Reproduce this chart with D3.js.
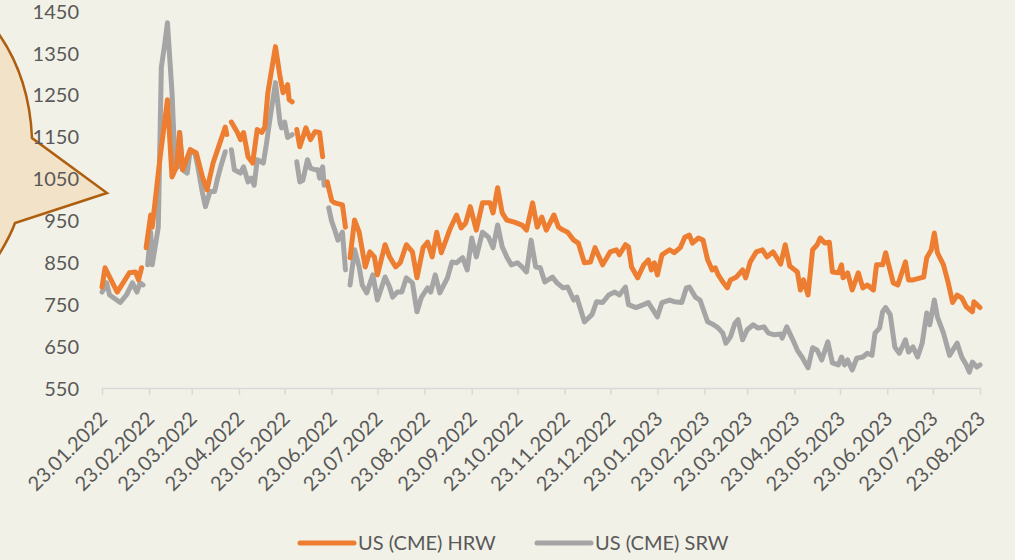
<!DOCTYPE html>
<html><head><meta charset="utf-8">
<script src="https://cdn.jsdelivr.net/npm/d3@7"></script>
<style>
html,body{margin:0;padding:0;background:#F2F1E7;}
svg{display:block;font-family:Lato,"Open Sans",sans-serif;}
</style>
</head><body>
<svg id="c" width="1015" height="560"></svg>
<script>
// ---------- data ----------
const tickLabels = ["23.01.2022","23.02.2022","23.03.2022","23.04.2022","23.05.2022","23.06.2022",
  "23.07.2022","23.08.2022","23.09.2022","23.10.2022","23.11.2022","23.12.2022","23.01.2023",
  "23.02.2023","23.03.2023","23.04.2023","23.05.2023","23.06.2023","23.07.2023","23.08.2023"];
const yTicks = [550,650,750,850,950,1050,1150,1250,1350,1450];
const seriesNames = ["US (CME) HRW","US (CME) SRW"];
const seriesColors = ["#ED7D31","#A5A5A5"];

const hrw = [
["2022-01-23",791],["2022-01-25",837],["2022-02-02",779],["2022-02-10",825],["2022-02-14",827],["2022-02-16",808],["2022-02-18",837],["2022-02-20",null],
["2022-02-21",885],["2022-02-24",963],["2022-02-25",934],["2022-03-02",1095],["2022-03-07",1238],["2022-03-10",1054],["2022-03-13",1078],["2022-03-15",1160],["2022-03-17",1071],["2022-03-22",1119],["2022-03-26",1111],["2022-03-30",1054],
["2022-04-02",1023],["2022-04-06",1087],["2022-04-09",1119],["2022-04-14",1173],["2022-04-15",1155],["2022-04-17",null],
["2022-04-18",1185],["2022-04-22",1160],["2022-04-24",1143],["2022-04-26",1160],["2022-04-29",1102],["2022-05-02",1087],["2022-05-05",1167],["2022-05-08",1160],["2022-05-10",1173],["2022-05-12",1255],["2022-05-17",1365],["2022-05-20",1293],["2022-05-22",1255],["2022-05-25",1274],["2022-05-26",1238],["2022-05-28",1233],["2022-05-30",null],
["2022-05-31",1167],["2022-06-02",1126],["2022-06-06",1171],["2022-06-09",1143],["2022-06-12",1162],["2022-06-15",1160],["2022-06-17",1102],["2022-06-19",null],
["2022-06-20",1042],["2022-06-23",997],["2022-06-25",992],["2022-06-30",987],["2022-07-02",934],["2022-07-03",null],
["2022-07-05",861],["2022-07-08",951],["2022-07-11",922],["2022-07-15",839],["2022-07-18",875],["2022-07-21",863],["2022-07-23",820],["2022-07-28",892],["2022-07-31",863],
["2022-08-04",839],["2022-08-07",849],["2022-08-11",892],["2022-08-15",875],["2022-08-18",813],["2022-08-22",885],["2022-08-25",898],["2022-08-28",863],["2022-08-31",922],
["2022-09-03",873],["2022-09-09",932],["2022-09-13",963],["2022-09-16",932],["2022-09-19",944],["2022-09-22",983],["2022-09-26",927],["2022-09-30",992],
["2022-10-05",992],["2022-10-07",968],["2022-10-10",1028],["2022-10-13",968],["2022-10-16",951],["2022-10-21",946],["2022-10-26",939],["2022-10-29",927],
["2022-11-02",992],["2022-11-05",934],["2022-11-08",958],["2022-11-11",927],["2022-11-16",963],["2022-11-19",934],["2022-11-22",927],["2022-11-25",922],["2022-11-29",903],
["2022-12-02",896],["2022-12-06",849],["2022-12-10",851],["2022-12-13",885],["2022-12-18",844],["2022-12-23",875],["2022-12-27",880],["2022-12-29",868],
["2023-01-02",892],["2023-01-04",887],["2023-01-06",839],["2023-01-10",813],["2023-01-14",844],["2023-01-17",856],["2023-01-19",832],["2023-01-21",849],["2023-01-23",820],["2023-01-26",868],["2023-01-31",880],
["2023-02-03",873],["2023-02-07",885],["2023-02-10",910],["2023-02-13",915],["2023-02-15",896],["2023-02-19",908],["2023-02-22",903],["2023-02-25",856],["2023-02-28",832],
["2023-03-02",837],["2023-03-04",820],["2023-03-07",803],["2023-03-10",789],["2023-03-12",808],["2023-03-16",815],["2023-03-20",832],["2023-03-22",813],["2023-03-25",851],["2023-03-29",875],
["2023-04-02",880],["2023-04-05",863],["2023-04-09",875],["2023-04-14",846],["2023-04-17",892],["2023-04-20",841],["2023-04-25",827],["2023-04-27",784],["2023-04-29",808],
["2023-05-02",772],["2023-05-05",880],["2023-05-08",892],["2023-05-10",908],["2023-05-13",896],["2023-05-16",898],["2023-05-18",827],["2023-05-22",825],["2023-05-24",844],["2023-05-25",813],["2023-05-28",825],["2023-05-31",784],
["2023-06-04",825],["2023-06-07",789],["2023-06-10",796],["2023-06-14",784],["2023-06-16",844],["2023-06-20",844],["2023-06-22",873],["2023-06-24",844],["2023-06-27",801],["2023-06-30",796],
["2023-07-05",851],["2023-07-07",808],["2023-07-10",808],["2023-07-15",813],["2023-07-17",815],["2023-07-19",861],["2023-07-22",880],["2023-07-24",920],["2023-07-26",873],["2023-07-30",844],
["2023-08-02",803],["2023-08-05",754],["2023-08-08",772],["2023-08-11",765],["2023-08-14",744],["2023-08-18",732],["2023-08-19",756],["2023-08-23",742]
];

const srw = [
["2022-01-23",779],["2022-01-26",801],["2022-01-28",772],["2022-02-04",754],["2022-02-08",772],["2022-02-12",801],["2022-02-15",779],["2022-02-17",801],["2022-02-19",796],["2022-02-20",null],
["2022-02-22",844],["2022-02-24",922],["2022-02-25",844],["2022-03-01",934],["2022-03-03",1316],["2022-03-05",1365],["2022-03-07",1422],["2022-03-10",1255],["2022-03-12",1087],["2022-03-14",1078],["2022-03-15",1160],["2022-03-17",1071],["2022-03-20",1063],["2022-03-22",1119],["2022-03-25",1111],["2022-03-27",1078],["2022-03-30",1016],
["2022-04-01",983],["2022-04-04",1019],["2022-04-07",1019],["2022-04-09",1051],["2022-04-11",1078],["2022-04-14",1114],["2022-04-17",null],
["2022-04-18",1119],["2022-04-20",1071],["2022-04-24",1063],["2022-04-26",1078],["2022-04-29",1042],["2022-05-01",1051],["2022-05-03",1034],["2022-05-05",1095],["2022-05-09",1087],["2022-05-11",1131],["2022-05-13",1183],["2022-05-15",1231],["2022-05-17",1279],["2022-05-20",1183],["2022-05-21",1171],["2022-05-23",1185],["2022-05-25",1148],["2022-05-28",1155],["2022-05-30",null],
["2022-05-31",1090],["2022-06-02",1042],["2022-06-04",1046],["2022-06-07",1095],["2022-06-09",1075],["2022-06-12",1071],["2022-06-14",1071],["2022-06-15",1051],["2022-06-17",1078],["2022-06-18",1034],["2022-06-19",null],
["2022-06-21",980],["2022-06-23",947],["2022-06-25",927],["2022-06-27",903],["2022-06-30",922],["2022-07-02",832],["2022-07-03",null],
["2022-07-05",796],["2022-07-08",880],["2022-07-11",839],["2022-07-13",796],["2022-07-16",777],["2022-07-20",820],["2022-07-23",760],["2022-07-28",815],["2022-07-31",791],
["2022-08-02",767],["2022-08-05",779],["2022-08-08",779],["2022-08-11",813],["2022-08-15",801],["2022-08-18",732],["2022-08-21",767],["2022-08-25",789],["2022-08-27",779],["2022-08-30",820],
["2022-09-02",777],["2022-09-07",813],["2022-09-10",851],["2022-09-13",849],["2022-09-17",861],["2022-09-20",832],["2022-09-23",908],["2022-09-26",863],["2022-09-30",922],
["2022-10-04",910],["2022-10-07",885],["2022-10-10",939],["2022-10-13",887],["2022-10-16",863],["2022-10-19",844],["2022-10-23",849],["2022-10-26",839],["2022-10-29",827],
["2022-11-01",903],["2022-11-04",839],["2022-11-07",837],["2022-11-10",803],["2022-11-15",815],["2022-11-18",801],["2022-11-22",789],["2022-11-25",791],["2022-11-29",760],
["2022-12-01",767],["2022-12-06",708],["2022-12-11",725],["2022-12-14",756],["2022-12-18",754],["2022-12-22",772],["2022-12-26",779],["2022-12-29",772],
["2023-01-02",791],["2023-01-04",749],["2023-01-09",742],["2023-01-14",749],["2023-01-17",754],["2023-01-20",737],["2023-01-23",720],["2023-01-26",754],["2023-01-31",760],
["2023-02-03",756],["2023-02-08",754],["2023-02-11",789],["2023-02-13",791],["2023-02-17",767],["2023-02-20",760],["2023-02-25",708],
["2023-03-01",701],["2023-03-04",693],["2023-03-07",681],["2023-03-09",657],["2023-03-12",672],["2023-03-15",705],["2023-03-17",713],["2023-03-20",665],["2023-03-23",689],["2023-03-27",701],["2023-03-30",693],
["2023-04-03",696],["2023-04-06",681],["2023-04-10",677],["2023-04-14",679],["2023-04-15",669],["2023-04-18",696],["2023-04-22",665],["2023-04-25",640],["2023-04-28",624],
["2023-05-02",598],["2023-05-05",646],["2023-05-08",640],["2023-05-11",617],["2023-05-15",660],["2023-05-18",610],["2023-05-22",605],["2023-05-24",624],["2023-05-26",605],["2023-05-28",617],["2023-05-31",593],
["2023-06-03",621],["2023-06-07",624],["2023-06-10",633],["2023-06-13",628],["2023-06-15",681],["2023-06-18",693],["2023-06-20",732],["2023-06-22",742],["2023-06-25",725],["2023-06-28",648],
["2023-07-01",633],["2023-07-05",665],["2023-07-07",636],["2023-07-10",648],["2023-07-13",624],["2023-07-16",657],["2023-07-19",729],["2023-07-21",701],["2023-07-24",760],["2023-07-26",720],["2023-07-30",681],
["2023-08-03",628],["2023-08-08",657],["2023-08-11",624],["2023-08-14",605],["2023-08-16",588],["2023-08-18",612],["2023-08-21",600],["2023-08-23",605]
];

// ---------- drawing ----------
const parseDate = d3.timeParse("%Y-%m-%d");
const parseTick = d3.timeParse("%d.%m.%Y");
const tickDates = tickLabels.map(parseTick);
const svg = d3.select("#c");
const textColor = "#595959";

svg.append("rect").attr("width",1015).attr("height",560).attr("fill","#F2F1E7");

const x = d3.scaleTime().domain([tickDates[0], tickDates[tickDates.length-1]]).range([102, 980]);
const y = d3.scaleLinear().domain([550, 1450]).range([388, 11]);

// decorative callout shape on the left edge
const p = d3.path();
p.moveTo(-12, 20);
p.quadraticCurveTo(29, 68, 32, 138);
p.lineTo(107, 193);
p.lineTo(15, 223);
p.quadraticCurveTo(9, 240, -12, 272);
p.closePath();
svg.append("path").attr("d", p.toString())
  .attr("fill", "#F2E2C7").attr("stroke", "#AD5E0E").attr("stroke-width", 2.5);

// y axis labels
const yAxis = svg.append("g").attr("transform","translate(86,0)")
  .call(d3.axisLeft(y).tickValues(yTicks).tickSize(0).tickPadding(7).tickFormat(d3.format("d")));
yAxis.select(".domain").remove();
yAxis.selectAll("text").attr("font-size",20).attr("font-family","Lato,'Open Sans',sans-serif")
  .attr("fill",textColor).attr("dy","0.36em");

// x axis
const xAxis = svg.append("g").attr("transform","translate(0,388)")
  .call(d3.axisBottom(x).tickValues(tickDates).tickSize(7).tickSizeOuter(0)
    .tickFormat((d,i) => tickLabels[i]));
xAxis.select(".domain").attr("stroke","#D9D9D9").attr("stroke-width",1.5);
xAxis.selectAll(".tick line").attr("stroke","#D9D9D9").attr("stroke-width",1.5);
xAxis.selectAll("text")
  .attr("font-size",20).attr("font-family","Lato,'Open Sans',sans-serif").attr("fill",textColor)
  .attr("x",0).attr("y",0).attr("dy",0)
  .attr("text-anchor","end")
  .attr("transform","translate(6,32) rotate(-45)");

// lines
const line = d3.line()
  .defined(d => d[1] != null)
  .x(d => x(parseDate(d[0])))
  .y(d => y(d[1]));

[srw, hrw].forEach((s, k) => {
  const idx = k === 0 ? 1 : 0;
  svg.append("path").datum(s).attr("d", line)
    .attr("fill","none").attr("stroke", seriesColors[idx])
    .attr("stroke-width",5).attr("stroke-linejoin","round").attr("stroke-linecap","round");
});

// legend
const legendX = [300, 537];
seriesNames.forEach((n, i) => {
  const g = svg.append("g").attr("transform", `translate(${legendX[i]},543)`);
  g.append("line").attr("x1",0).attr("x2",54).attr("y1",0).attr("y2",0)
    .attr("stroke",seriesColors[i]).attr("stroke-width",5).attr("stroke-linecap","round");
  g.append("text").attr("x",58).attr("y",0).attr("dy","0.36em")
    .attr("font-size",20).attr("fill",textColor).text(n);
});
</script>
</body></html>
